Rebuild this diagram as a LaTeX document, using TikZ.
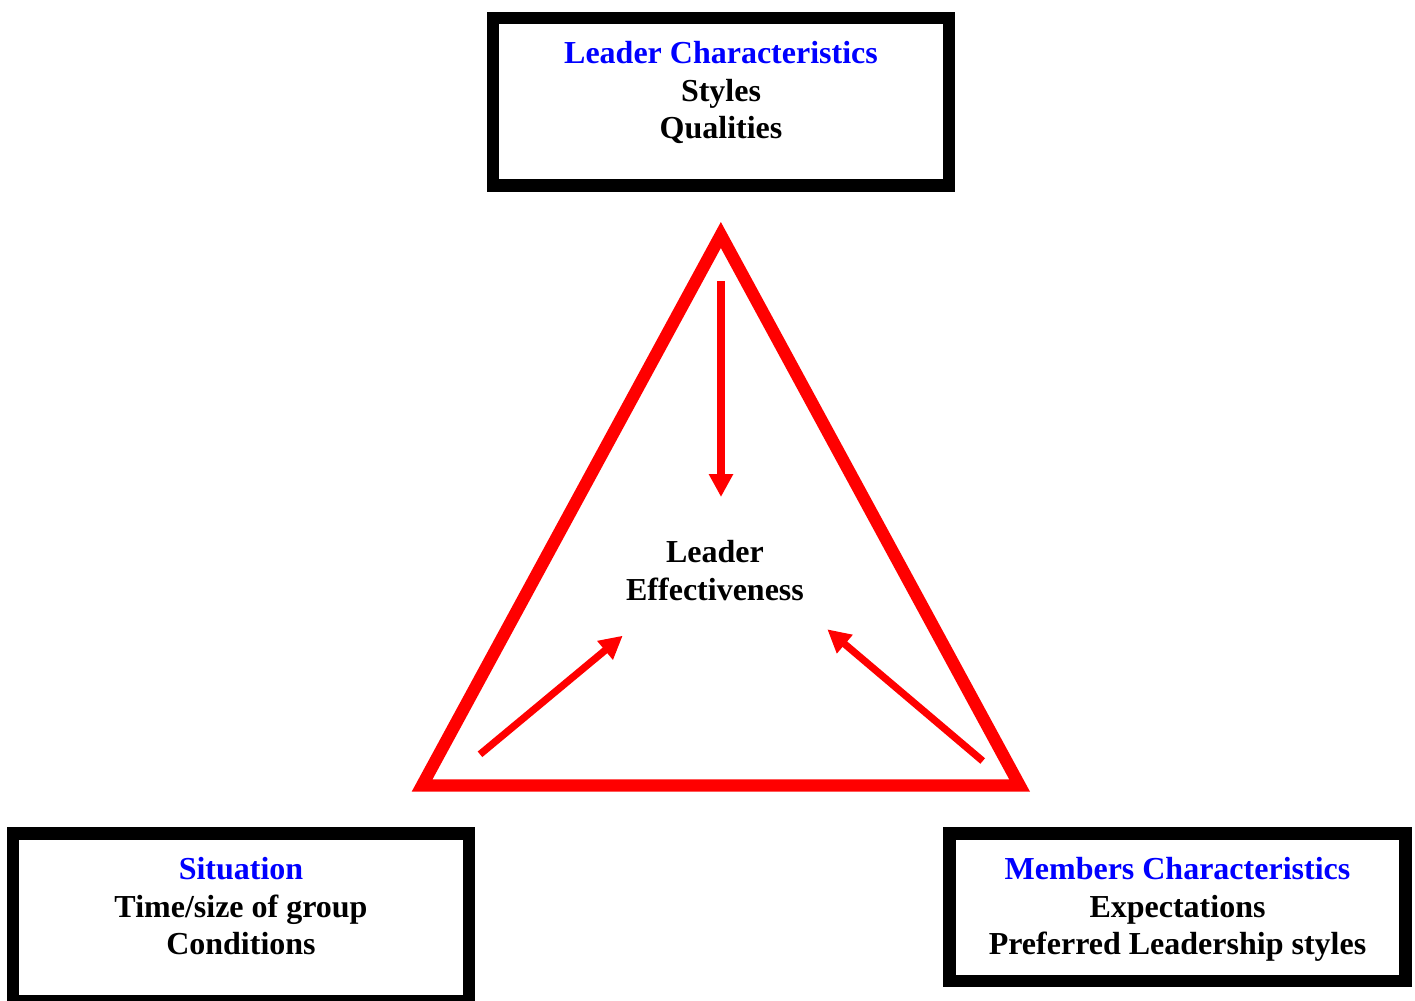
\documentclass[tikz,border=0pt]{standalone}
\usepackage{fontspec}
\setmainfont{Liberation Serif}
\usetikzlibrary{arrows.meta}
\definecolor{tri}{RGB}{255,0,0}
\definecolor{head}{RGB}{0,0,255}
\begin{document}
\begin{tikzpicture}[x=0.5pt,y=-0.5pt,
 box/.style={draw=black,line width=6.25pt,minimum width=228pt,inner sep=0pt},
 txt/.style={anchor=north,align=center,inner sep=0pt,font=\fontsize{16}{18.75}\selectfont\bfseries},
 flow/.style={draw=tri,line width=3.6pt,-{Triangle[length=11.5pt,width=11.5pt]}}]
 \useasboundingbox (0,0) rectangle (1415,1001);
 % the three boxes
 \node[box,minimum height=83.75pt] (leader) at (721,101.75) {};
 \node[box,minimum height=83.75pt] (situation) at (241,917.25) {};
 \node[box,minimum height=73.75pt] (members) at (1177.5,907.25) {};
 \node[txt] (leadertxt) at (721,41) {\textcolor{head}{Leader Characteristics}\\Styles\\Qualities};
 \node[txt] (situationtxt) at (241,857) {\textcolor{head}{Situation}\\Time/size of group\\Conditions};
 \node[txt] (memberstxt) at (1177.5,857) {\textcolor{head}{Members Characteristics}\\Expectations\\Preferred Leadership styles};
 % triangle
 \coordinate (apex) at (720.85,235);
 \coordinate (left) at (422.1,785.5);
 \coordinate (right) at (1019.6,785.5);
 \draw[tri,line width=6.2pt] (apex) -- (left) -- (right) -- cycle;
 \node[txt] (effect) at (715,540) {Leader\\Effectiveness};
 % arrows
 \coordinate (topstart) at (721,281);
 \coordinate (topend) at (721,497);
 \coordinate (leftstart) at (480,754.3);
 \coordinate (leftend) at (622.7,635.7);
 \coordinate (rightstart) at (982.7,761);
 \coordinate (rightend) at (827.3,629.3);
 \draw[flow] (topstart) -- (topend);
 \draw[flow] (leftstart) -- (leftend);
 \draw[flow] (rightstart) -- (rightend);
\end{tikzpicture}
\end{document}
